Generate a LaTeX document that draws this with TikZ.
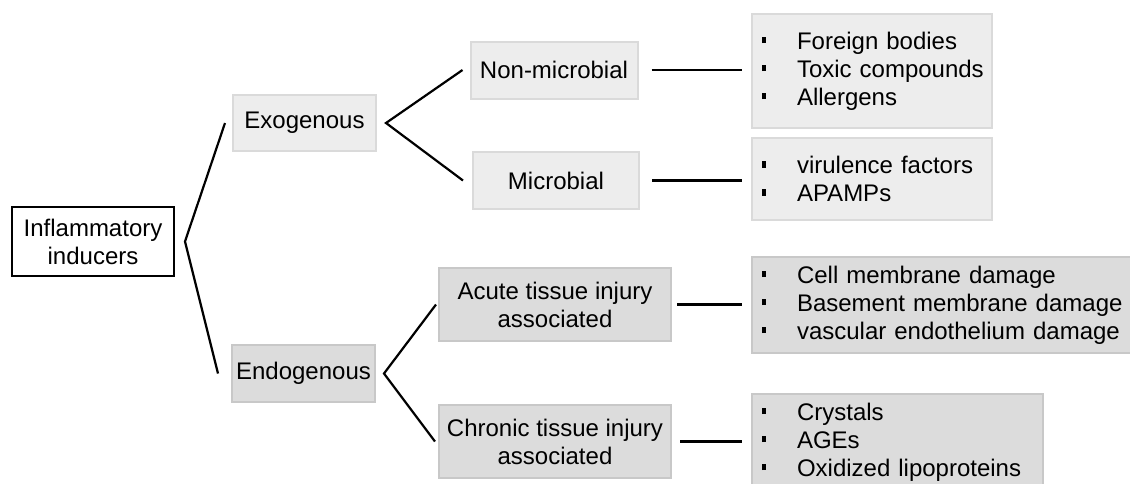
\documentclass[tikz,border=0pt]{standalone}
\usepackage{fontspec}
\setmainfont{Liberation Sans}
\definecolor{exofill}{HTML}{EDEDED}
\definecolor{exoline}{HTML}{DADADA}
\definecolor{endofill}{HTML}{DCDCDC}
\definecolor{endoline}{HTML}{C8C8C8}
\newcommand{\sqb}[1]{\mbox{\makebox[19.5pt][l]{\hspace{2pt}\rule[3pt]{2.2pt}{3.2pt}}#1}}
\begin{document}
\begin{tikzpicture}[x=.5pt, y=-.5pt, every node/.style={font=\fontsize{12}{14}\selectfont, inner sep=0pt, outer sep=0pt, align=center},
	conn/.style={line width=1.1pt},
	rootbox/.style={draw, line width=1.1pt, fill=white},
	exobox/.style={draw=exoline, line width=1pt, fill=exofill},
	endobox/.style={draw=endoline, line width=1pt, fill=endofill},
	items/.style={align=left, inner xsep=3pt, text width=#1}]
	\useasboundingbox (0,0) rectangle (1130,483);
	\clip (0,0) rectangle (1130,483);
	\node[rootbox, minimum width=81pt, minimum height=34.5pt] (root) at (93,241.5) {Inflammatory\\inducers};
	\node[exobox, minimum width=71.5pt, minimum height=28pt] (exo) at (304.5,123) {Exogenous};
	\node[endobox, minimum width=71.5pt, minimum height=28.5pt] (endo) at (303.5,373.5) {Endogenous};
	\node[exobox, minimum width=83.5pt, minimum height=28.5pt] (nonmic) at (554,70) {Non-microbial};
	\node[exobox, minimum width=83pt, minimum height=28.5pt] (mic) at (556,180.5) {Microbial};
	\node[endobox, minimum width=116pt, minimum height=36.5pt] (acute) at (555,304.5) {Acute tissue injury\\associated};
	\node[endobox, minimum width=116pt, minimum height=36.5pt] (chronic) at (555,441.5) {Chronic tissue injury\\associated};
	\node[exobox, items=114pt, minimum height=57pt] (nonmiclist) at (872,71) {\sqb{Foreign bodies}\\\sqb{Toxic compounds}\\\sqb{Allergens}};
	\node[exobox, items=114pt, minimum height=41pt] (miclist) at (872,179) {\sqb{virulence factors}\\\sqb{APAMPs}};
	\node[endobox, items=193pt, minimum height=48pt] (acutelist) at (951,305) {\sqb{Cell membrane damage}\\\sqb{Basement membrane damage}\\\sqb{vascular endothelium damage}};
	\node[endobox, items=139.5pt, minimum height=48pt] (chroniclist) at (897.5,442) {\sqb{Crystals}\\\sqb{AGEs}\\\sqb{Oxidized lipoproteins}};
	\draw[conn] ([xshift=-4pt]exo.west) -- ([xshift=5.5pt]root.east) -- ([xshift=-7pt]endo.west);
	\draw[conn] ([xshift=-4pt]nonmic.west) -- ([xshift=5pt]exo.east) -- ([xshift=-5pt]mic.west);
	\draw[conn] ([xshift=-1.5pt]acute.west) -- ([xshift=4.5pt]endo.east) -- ([xshift=-2pt]chronic.west);
	\draw[conn] ([xshift=7pt]nonmic.east) -- ([xshift=-5pt]nonmic.east -| nonmiclist.west);
	\draw[conn] ([xshift=6.5pt]mic.east) -- ([xshift=-5pt]mic.east -| miclist.west);
	\draw[conn] ([xshift=3pt]acute.east) -- ([xshift=-5pt]acute.east -| acutelist.west);
	\draw[conn] ([xshift=4.5pt]chronic.east) -- ([xshift=-5pt]chronic.east -| chroniclist.west);
\end{tikzpicture}
\end{document}
